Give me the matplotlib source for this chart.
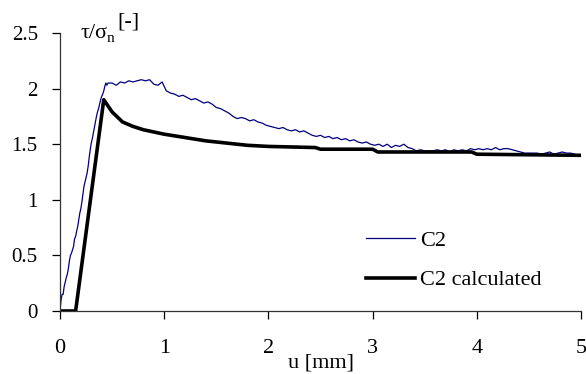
import matplotlib.pyplot as plt
import numpy as np

plt.rcParams['font.family'] = ['Liberation Serif', 'DejaVu Serif']

# measured curve C2: rise part
u_rise = [0.0, 0.01, 0.02, 0.03, 0.04, 0.05, 0.06, 0.07, 0.08, 0.09,
          0.10, 0.11, 0.12, 0.13, 0.14, 0.15, 0.16, 0.17, 0.18, 0.19,
          0.20, 0.21, 0.22, 0.23, 0.24, 0.25, 0.26, 0.27, 0.28, 0.29,
          0.30, 0.31, 0.32, 0.33, 0.34, 0.35, 0.36, 0.37, 0.38, 0.39,
          0.40, 0.41, 0.42, 0.43, 0.44, 0.45, 0.46]
tau_rise = [0.0, 0.10, 0.15, 0.15, 0.22, 0.26, 0.30, 0.33, 0.38, 0.45,
            0.50, 0.52, 0.55, 0.58, 0.65, 0.67, 0.72, 0.76, 0.82, 0.88,
            0.92, 0.98, 1.05, 1.12, 1.16, 1.20, 1.24, 1.30, 1.38, 1.45,
            1.51, 1.55, 1.60, 1.65, 1.70, 1.75, 1.79, 1.82, 1.86, 1.90,
            1.93, 1.95, 1.98, 2.02, 2.05, 2.03, 2.05]

# measured curve C2: post-peak part, sampled every 0.04 mm from 0.50
u_tail = np.round(np.arange(0.50, 5.0, 0.04), 2).tolist() + [5.0]
tau_tail = [2.05, 2.03, 2.06, 2.05, 2.07, 2.06, 2.07, 2.08, 2.07, 2.08, 2.04, 2.03, 2.06,
            1.98, 1.96, 1.95, 1.93, 1.94, 1.92, 1.90, 1.91, 1.89, 1.87, 1.88, 1.86, 1.83,
            1.82, 1.80, 1.78, 1.75, 1.73, 1.74, 1.73, 1.71, 1.72, 1.70, 1.69, 1.67,
            1.66, 1.65, 1.64, 1.65, 1.63, 1.62, 1.63, 1.61, 1.62, 1.60, 1.58, 1.57, 1.58,
            1.56, 1.57, 1.55, 1.56, 1.54, 1.55, 1.53, 1.54, 1.52, 1.51, 1.52, 1.50,
            1.49, 1.50, 1.48, 1.50, 1.47, 1.49, 1.48, 1.50, 1.47, 1.46, 1.44, 1.45, 1.44,
            1.44, 1.44, 1.45, 1.44, 1.45, 1.43, 1.45, 1.44, 1.45, 1.44, 1.46, 1.45,
            1.46, 1.45, 1.46, 1.45, 1.47, 1.45, 1.46, 1.46, 1.45, 1.44, 1.43, 1.42, 1.42,
            1.42, 1.42, 1.41, 1.42, 1.43, 1.41, 1.42, 1.43, 1.42, 1.42, 1.41, 1.40,
            1.40]

u_c2 = u_rise + u_tail
tau_c2 = tau_rise + tau_tail

# calculated curve
u_calc = [0.0, 0.15, 0.42, 0.5, 0.6, 0.7, 0.8, 0.9, 1.0, 1.2, 1.4, 1.6, 1.8,
          2.0, 2.45, 2.5, 3.0, 3.05, 3.95, 4.0, 4.5, 5.0]
tau_calc = [0.0, 0.0, 1.90, 1.79, 1.70, 1.66, 1.63, 1.61, 1.59, 1.56, 1.53, 1.51,
            1.49, 1.48, 1.47, 1.455, 1.455, 1.43, 1.43, 1.41, 1.405, 1.40]

fig = plt.figure(figsize=(5.86, 3.74), dpi=100)
ax = fig.add_axes([60 / 586, 1 - 311 / 374, 521 / 586, 278 / 374])

ax.plot(u_c2, tau_c2, color='#000080', lw=0.9, label='C2')
ax.plot(u_calc, tau_calc, color='black', lw=2.6, label='C2 calculated')

ax.set_xlim(0, 5)
ax.set_ylim(0, 2.5)
ax.set_xticks([0, 1, 2, 3, 4, 5])
ax.set_yticks([0, 0.5, 1, 1.5, 2, 2.5])
ax.set_yticklabels(['0', '0.5', '1', '1.5', '2', '2.5'])
ax.spines['top'].set_visible(False)
ax.spines['right'].set_visible(False)
for s in ['left', 'bottom']:
    ax.spines[s].set_linewidth(0.9)
    ax.spines[s].set_color('#333333')
ax.tick_params(axis='x', direction='out', length=6, width=0.9, pad=14, labelsize=16)
ax.tick_params(axis='y', direction='out', length=6, width=0.9, pad=10, labelsize=15)

fig.text(321 / 586, 1 - 363 / 374, 'u [mm]', ha='center', va='center', fontsize=16)

# axis title inside the plot area
fig.text(80 / 586, 1 - 33 / 374, 'τ/σ', ha='left', va='center', fontsize=16)
fig.text(107 / 586, 1 - 39 / 374, 'n', ha='left', va='center', fontsize=11)
fig.text(117 / 586, 1 - 22 / 374, '[-]', ha='left', va='center', fontsize=16)

ax.legend(loc='center left', bbox_to_anchor=(366 / 586, 1 - 260.5 / 374),
          bbox_transform=fig.transFigure, frameon=False, fontsize=16,
          handlelength=2.2, handletextpad=0.23, labelspacing=0.84, borderpad=0,
          borderaxespad=0)

fig.savefig('out.png', dpi=100)
